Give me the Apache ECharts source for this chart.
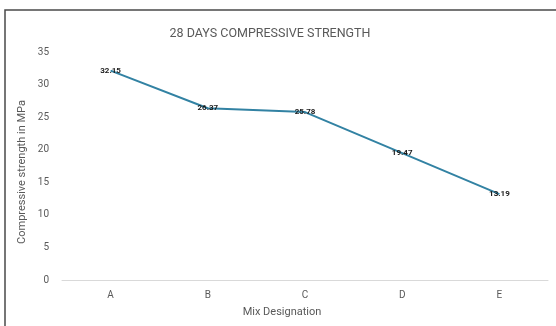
<!DOCTYPE html>
<html>
<head>
<meta charset="utf-8">
<script src="https://cdn.jsdelivr.net/npm/echarts@6/dist/echarts.min.js"></script>
<style>html,body{margin:0;padding:0;background:#fff;}#c{width:556px;height:326px;}</style>
</head>
<body>
<div id="c"></div>
<script>
const categories = ['A', 'B', 'C', 'D', 'E'];
const strength = [32.15, 26.37, 25.78, 19.47, 13.19];
const yTicks = [0, 5, 10, 15, 20, 25, 30, 35];
const titleText = '28 DAYS COMPRESSIVE STRENGTH';
const xName = 'Mix Designation';
const yName = 'Compressive strength in MPa';

const chart = echarts.init(document.getElementById('c'), null, {renderer: 'canvas'});
const font = 'Roboto, "Noto Sans", sans-serif';
chart.setOption({
  backgroundColor: '#fff',
  animation: false,
  title: {
    text: titleText, left: 265, top: 22, textAlign: 'center',
    textStyle: {fontSize: 12.5, fontWeight: 'normal', color: '#595959', fontFamily: font}
  },
  grid: {left: 62, right: 8, top: 52, bottom: 46, containLabel: false},
  xAxis: {
    type: 'category', data: categories, boundaryGap: true,
    axisLine: {show: true, lineStyle: {color: '#d9d9d9', width: 1}},
    axisTick: {show: false},
    axisLabel: {color: '#595959', fontSize: 10, margin: 10, fontFamily: font},
    splitLine: {show: false}
  },
  yAxis: {
    type: 'value', min: yTicks[0], max: yTicks[yTicks.length - 1], interval: 5,
    axisLine: {show: false}, axisTick: {show: false},
    axisLabel: {color: '#595959', fontSize: 10, margin: 13, fontFamily: font},
    splitLine: {show: false}
  },
  graphic: [
    {type: 'rect', shape: {x: 5, y: 10, width: 600, height: 400},
     style: {fill: 'none', stroke: '#4a4a4a', lineWidth: 1.5}, silent: true, z: 100},
    {type: 'text', x: 282, y: 312, style: {text: xName, fill: '#595959', fontSize: 11, fontFamily: font, textAlign: 'center', textVerticalAlign: 'middle'}},
    {type: 'text', x: 22, y: 172, rotation: Math.PI / 2, style: {text: yName, fill: '#595959', fontSize: 11, fontFamily: font, textAlign: 'center', textVerticalAlign: 'middle'}}
  ],
  series: [{
    type: 'line', data: strength, showSymbol: true, symbol: 'circle', symbolSize: 1,
    lineStyle: {color: '#3282a3', width: 2},
    itemStyle: {color: 'rgba(50,130,163,0)'},
    label: {show: true, position: 'inside', formatter: p => p.value.toFixed(2),
      color: '#1a1a1a', fontSize: 8, fontWeight: 'bold', fontFamily: font},
    labelLayout: {hideOverlap: false}
  }]
});
</script>
</body>
</html>
